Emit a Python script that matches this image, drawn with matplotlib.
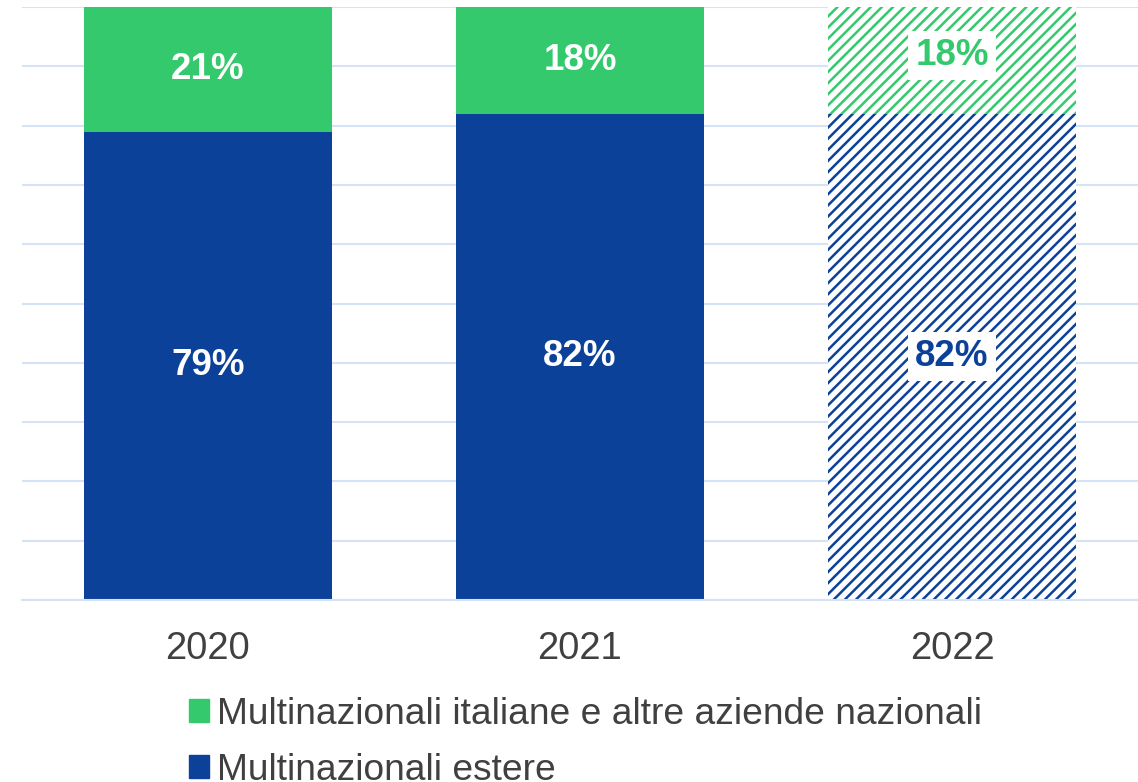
import matplotlib.pyplot as plt
import numpy as np

plt.rcParams['font.family'] = ['Liberation Sans', 'DejaVu Sans']
plt.rcParams['hatch.linewidth'] = 1.8

# --- data ---------------------------------------------------------------------
years = ["2020", "2021", "2022"]
estere = [79, 82, 82]            # Multinazionali estere
italiane = [21, 18, 18]          # Multinazionali italiane e altre aziende nazionali
forecast = [False, False, True]  # 2022 drawn hatched

BLUE = "#0c419a"
GREEN = "#35c96e"
GRID = "#d5e3f6"
TXT = "#404040"

fig = plt.figure(figsize=(11.38, 7.82), dpi=100)
ax = fig.add_axes([0.0193, 0.2327, 0.9807, 0.7583])

x = np.arange(len(years))
w = 0.665

for i in range(len(years)):
    if forecast[i]:
        ax.bar(x[i], estere[i], w, color="white", edgecolor=BLUE, hatch="///",
               linewidth=0, zorder=2)
        ax.bar(x[i], italiane[i], w, bottom=estere[i], color="white", edgecolor=GREEN,
               hatch="///", linewidth=0, zorder=2)
        box = dict(facecolor="white", edgecolor="none", pad=5)
        ax.text(x[i], estere[i] / 2, f"{estere[i]}%", ha="center", va="center",
                color=BLUE, fontsize=26.5, fontweight="bold", bbox=box, zorder=3)
        ax.text(x[i], estere[i] + italiane[i] / 2 + 0.8, f"{italiane[i]}%", ha="center",
                va="center", color=GREEN, fontsize=26.5, fontweight="bold", bbox=box, zorder=3)
    else:
        ax.bar(x[i], estere[i], w, color=BLUE, zorder=2)
        ax.bar(x[i], italiane[i], w, bottom=estere[i], color=GREEN, zorder=2)
        ax.text(x[i], estere[i] / 2, f"{estere[i]}%", ha="center", va="center",
                color="white", fontsize=26.5, fontweight="bold", zorder=3)
        ax.text(x[i], estere[i] + italiane[i] / 2, f"{italiane[i]}%", ha="center",
                va="center", color="white", fontsize=26.5, fontweight="bold", zorder=3)

ax.set_xlim(-0.5, 2.5)
ax.set_ylim(0, 100)
ax.set_yticks(np.arange(0, 101, 10))
ax.yaxis.grid(True, color=GRID, linewidth=1.5, zorder=0)
ax.set_axisbelow(True)
ax.tick_params(axis="y", left=False, labelleft=False)
ax.tick_params(axis="x", bottom=False, labelsize=27.5, labelcolor=TXT, pad=19)
ax.set_xticks(x)
ax.set_xticklabels(years)
for s in ["top", "right", "left"]:
    ax.spines[s].set_visible(False)
ax.spines["bottom"].set_color(GRID)
ax.spines["bottom"].set_linewidth(1.5)

# --- legend -------------------------------------------------------------------
h1 = plt.Rectangle((0, 0), 1, 1, color=GREEN)
h2 = plt.Rectangle((0, 0), 1, 1, color=BLUE)
leg = fig.legend([h1, h2],
                 ["Multinazionali italiane e altre aziende nazionali", "Multinazionali estere"],
                 loc="upper left", bbox_to_anchor=(0.166, 0.109), frameon=False,
                 fontsize=26.7, handlelength=0.55, handleheight=0.55, handletextpad=0.22,
                 labelspacing=0.56, borderpad=0, borderaxespad=0)
for t in leg.get_texts():
    t.set_color(TXT)

fig.savefig("out.png", dpi=100)
